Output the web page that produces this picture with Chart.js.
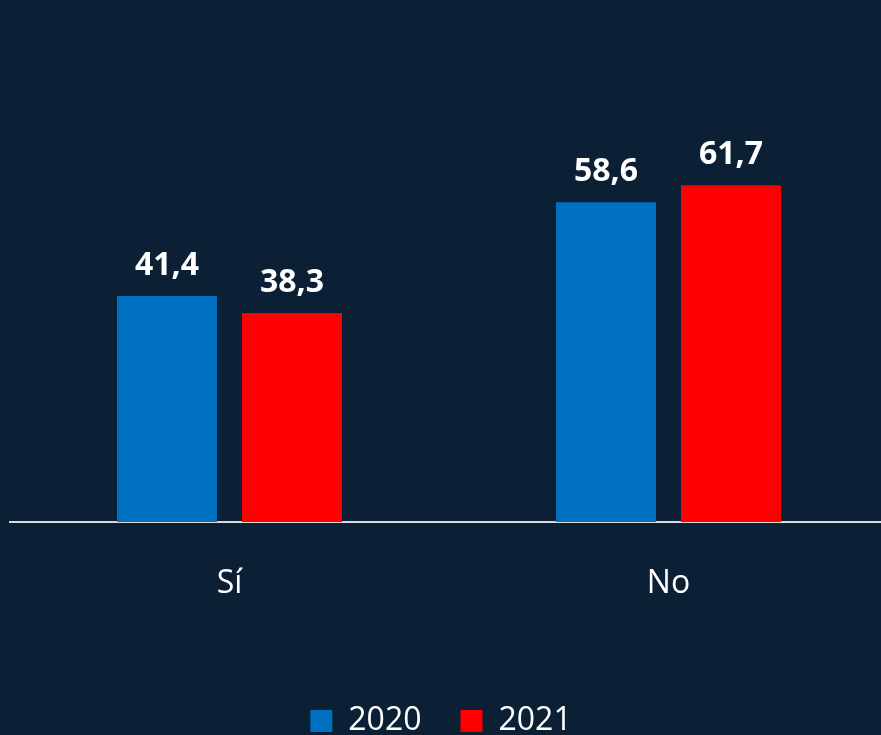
<!DOCTYPE html>
<html>
<head>
<meta charset="utf-8">
<script src="https://cdn.jsdelivr.net/npm/chart.js@4.4.1/dist/chart.umd.min.js"></script>
<style>
  html, body { margin: 0; padding: 0; background: #0B1F35; overflow: hidden; }
  #wrap { position: relative; width: 890px; height: 747px; }
</style>
</head>
<body>
<div id="wrap"><canvas id="chart"></canvas></div>
<script>
const categories = ['Sí', 'No']
const seriesLabels = ['2020', '2021']
const values2020 = [41.4, 58.6]
const values2021 = [38.3, 61.7]
const seriesColors = ['#0070C0', '#FF0000']

const fontFamily = "'Open Sans', sans-serif"
Chart.defaults.font.family = fontFamily
Chart.defaults.color = '#FFFFFF'

// value labels above each bar, comma as decimal separator
const barValues = {
  id: 'barValues',
  afterDatasetsDraw(chart) {
    const ctx = chart.ctx
    ctx.save()
    ctx.fillStyle = '#FFFFFF'
    ctx.font = 'bold 32px ' + fontFamily
    ctx.textAlign = 'center'
    ctx.textBaseline = 'alphabetic'
    chart.data.datasets.forEach((ds, i) => {
      chart.getDatasetMeta(i).data.forEach((bar, j) => {
        const txt = ds.data[j].toFixed(1).replace('.', ',')
        ctx.fillText(txt, bar.x, bar.y - 21)
      })
    })
    ctx.restore()
  },
}

// canvas is wider than the window, so pull the legend back to the window centre
const legendShift = {
  id: 'legendShift',
  afterLayout(chart) {
    chart.legend.left -= 8
    chart.legend.right -= 8
  },
}

new Chart(document.getElementById('chart'), {
  type: 'bar',
  data: {
    labels: categories,
    datasets: [
      { label: seriesLabels[0], data: values2020, backgroundColor: seriesColors[0], borderWidth: 0 },
      { label: seriesLabels[1], data: values2021, backgroundColor: seriesColors[1], borderWidth: 0 },
    ],
  },
  options: {
    responsive: true,
    maintainAspectRatio: false,
    animation: false,
    categoryPercentage: 0.5695,
    barPercentage: 0.8,
    layout: { padding: { top: 140, left: 10, right: 2, bottom: 0 } },
    scales: {
      x: {
        grid: { display: false, drawTicks: false },
        border: { display: true, color: '#D9D9D9', width: 2 },
        ticks: { color: '#FFFFFF', font: { size: 32 }, padding: 43 },
        afterFit: (scale) => { scale.height = 144 },
      },
      y: { display: false, min: 0, max: 70 },
    },
    plugins: {
      legend: {
        position: 'bottom',
        labels: {
          color: '#FFFFFF',
          font: { size: 32 },
          boxWidth: 22,
          boxHeight: 22,
          padding: 39,
        },
      },
      tooltip: { enabled: false },
    },
  },
  plugins: [barValues, legendShift],
})
</script>
</body>
</html>
